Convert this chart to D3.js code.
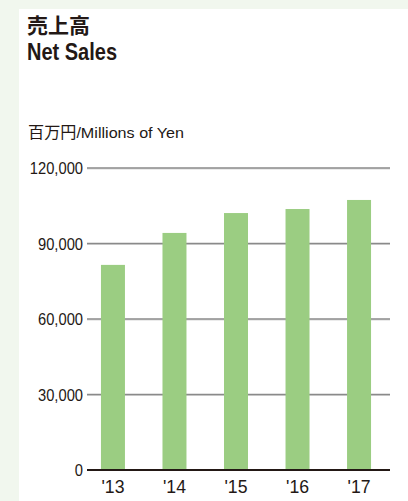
<!DOCTYPE html>
<html><head><meta charset="utf-8">
<script src="https://cdn.jsdelivr.net/npm/d3@7/dist/d3.min.js"></script>
<style>html,body{margin:0;padding:0;background:#f1f7ee;}svg{display:block;}</style>
</head><body>
<script>
const years = ["'13", "'14", "'15", "'16", "'17"];
const netSales = [81500, 94200, 102100, 103700, 107300];
const yTicks = [0, 30000, 60000, 90000, 120000];
const titleJa = "売上高";
const titleEn = "Net Sales";
const unitLabel = "百万円/Millions of Yen";

const W = 408, H = 501;
const svg = d3.select("body").append("svg").attr("width", W).attr("height", H);
svg.append("rect").attr("width", W).attr("height", H).attr("fill", "#f1f7ee");
svg.append("rect").attr("x", 19).attr("y", 9).attr("width", W - 19).attr("height", H - 9).attr("fill", "#ffffff");

const ink = "#231815";
const font = "'Liberation Sans', Arial, 'Noto Sans CJK JP', sans-serif";

svg.append("text").attr("x", 27).attr("y", 33).text(titleJa)
  .attr("font-family", "'Noto Sans CJK JP', sans-serif").attr("font-weight", "bold")
  .attr("font-size", 21).attr("fill", ink);
svg.append("text").attr("x", 27).attr("y", 60).text(titleEn)
  .attr("font-family", font).attr("font-weight", "bold")
  .attr("font-size", 24).attr("textLength", 90).attr("lengthAdjust", "spacingAndGlyphs").attr("fill", ink);
svg.append("text").attr("x", 28).attr("y", 138).text(unitLabel)
  .attr("font-family", font).attr("font-size", 15.5).attr("textLength", 156)
  .attr("lengthAdjust", "spacingAndGlyphs").attr("fill", ink);

const x0 = 87, x1 = 390, yTop = 168, yBot = 470;
const y = d3.scaleLinear().domain([0, 120000]).range([yBot, yTop]);
const x = d3.scaleBand().domain(years).range([82.5, 389.5]).paddingInner(0.61).paddingOuter(0.3);

// gridlines
const grid = svg.append("g");
yTicks.filter(t => t > 0).forEach(t => {
  grid.append("line").attr("x1", x0).attr("x2", x1).attr("y1", y(t) + 1).attr("y2", y(t) + 1)
    .attr("stroke", "#d8d8d8").attr("stroke-width", 1);
  grid.append("line").attr("x1", x0).attr("x2", x1).attr("y1", y(t)).attr("y2", y(t))
    .attr("stroke", "#8a8a8a").attr("stroke-width", 1.3);
});

// y tick labels
const fmt = d3.format(",");
svg.append("g").selectAll("text").data(yTicks).join("text")
  .attr("x", 83).attr("y", d => y(d)).attr("dy", "0.36em")
  .attr("text-anchor", "end").attr("font-family", font).attr("font-size", 17)
  .attr("textLength", d => { const s = fmt(d); const n = s.replace(/,/g, "").length; return n * 8.2 + (s.length - n) * 4; })
  .attr("lengthAdjust", "spacingAndGlyphs")
  .attr("fill", ink).text(d => fmt(d));

// bars
svg.append("g").selectAll("rect").data(netSales).join("rect")
  .attr("x", (d, i) => x(years[i])).attr("width", x.bandwidth())
  .attr("y", d => y(d)).attr("height", d => yBot - y(d))
  .attr("fill", "#9bcd82");

// baseline
svg.append("line").attr("x1", x0).attr("x2", x1).attr("y1", yBot).attr("y2", yBot)
  .attr("stroke", ink).attr("stroke-width", 2);

// x labels
svg.append("g").selectAll("text").data(years).join("text")
  .attr("x", d => x(d) + x.bandwidth() / 2).attr("y", 493)
  .attr("text-anchor", "middle").attr("font-family", font).attr("font-size", 17.5)
  .attr("textLength", 23).attr("lengthAdjust", "spacingAndGlyphs")
  .attr("fill", ink).text(d => d);
</script>
</body></html>
